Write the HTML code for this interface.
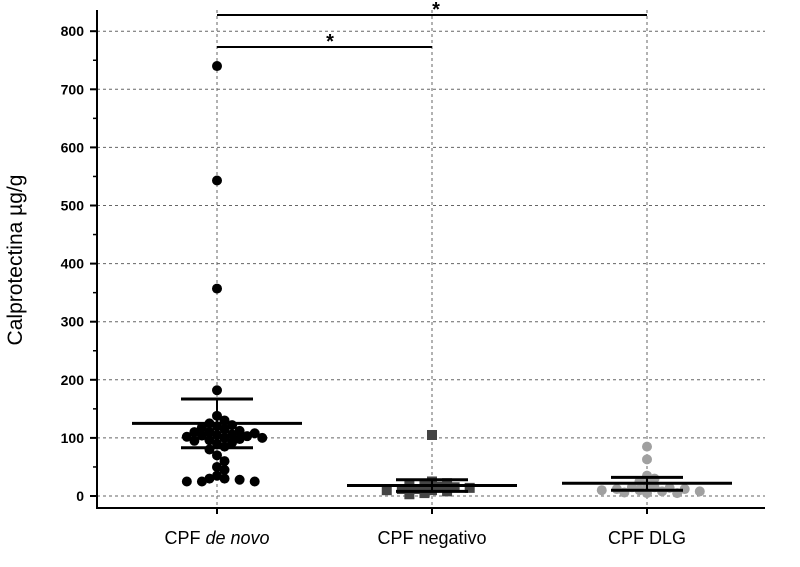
<!DOCTYPE html>
<html><head><meta charset="utf-8"><style>
body{margin:0;background:#fff;}
svg{display:block;font-family:"Liberation Sans",sans-serif;}
</style></head><body>
<svg id="chart" width="800" height="567">
<g id="grid"></g>
<g id="axes"></g>
<g id="marks"></g>
<text x="22" y="260" transform="rotate(-90 22 260)" text-anchor="middle" font-size="21" fill="#000">Calprotectina µg/g</text>
<line x1="217" y1="15" x2="647" y2="15" stroke="#000" stroke-width="2"/>
<text x="436" y="16" text-anchor="middle" font-size="20" font-weight="bold">*</text>
<line x1="217" y1="47" x2="432" y2="47" stroke="#000" stroke-width="2"/>
<text x="330" y="48" text-anchor="middle" font-size="20" font-weight="bold">*</text>
</svg>
<script>
const categories=["CPF de novo","CPF negativo","CPF DLG"];
const group1=[740,543,357,182,138,130,125,122,120,118,115,112,110,110,108,106,105,104,103,102,100,100,98,96,95,92,90,85,80,70,60,50,45,35,30,25,25,25,28,30];
const group2=[105,3,5,8,10,12,14,15,16,18,20,22,25,12,10];
const group3=[85,63,35,30,25,20,15,12,10,8,6,5,5,8,10,12,15,14];
const means=[125,18,22];
const sdLow=[83,8,10];
const sdHigh=[167,28,32];
const yTicks=[0,100,200,300,400,500,600,700,800];
const NS="http://www.w3.org/2000/svg";
const y=v=>496-v*0.581;
const xc=i=>217+i*215;
function mk(t,a,p){const e=document.createElementNS(NS,t);for(const k in a)e.setAttribute(k,a[k]);p.appendChild(e);return e;}
const grid=document.getElementById('grid'),axes=document.getElementById('axes'),marks=document.getElementById('marks');
yTicks.forEach(v=>{
 const g=mk('line',{x1:97,x2:765,y1:y(v),y2:y(v),stroke:'#666','stroke-dasharray':'3,3','stroke-width':1},grid);
 
 
 const t=mk('line',{x1:90,x2:97,y1:y(v),y2:y(v),stroke:'#000','stroke-width':2},axes);
 
 
 if(v<800){
 const m=mk('line',{x1:93,x2:97,y1:y(v+50),y2:y(v+50),stroke:'#000','stroke-width':1.5},axes);
 
 }
 const l=mk('text',{x:84,y:y(v)+5,'text-anchor':'end','font-size':14,'font-weight':'bold',fill:'#000'},axes);
 l.textContent=v;
 
 
});
categories.forEach((c,i)=>{
 const g=mk('line',{x1:xc(i),x2:xc(i),y1:10,y2:508,stroke:'#666','stroke-dasharray':'3,3','stroke-width':1},grid);
 
 
 const t=mk('text',{x:xc(i),y:544,'text-anchor':'middle','font-size':18,fill:'#000'},axes);
 
 
 if(i===0){t.innerHTML='CPF <tspan font-style="italic">de novo</tspan>';}else t.textContent=c;
 const k=mk('line',{x1:xc(i),x2:xc(i),y1:508,y2:514,stroke:'#000','stroke-width':2},axes);
 
 
});
let a=mk('line',{x1:97,x2:97,y1:10,y2:509,stroke:'#000','stroke-width':2},axes);


a=mk('line',{x1:96,x2:765,y1:508,y2:508,stroke:'#000','stroke-width':2},axes);


function swarm(vals,cx,r){
 const placed=[];const sorted=vals.slice().sort((p,q)=>q-p);
 sorted.forEach(v=>{const py=y(v);let k=0;
  while(true){const off=(k%2?1:-1)*Math.ceil(k/2)*r*1.45;const px=cx+off;
   if(placed.every(p=>Math.hypot(p[0]-px,p[1]-py)>=r*1.55)){placed.push([px,py]);break;}k++;if(k>40){placed.push([px,py]);break;}}
 });return placed;}
const groups=[group1,group2,group3];
const colors=['#000','#444','#a0a0a0'];
groups.forEach((vals,i)=>{
 swarm(vals,xc(i),5.2).forEach(p=>{
  let e;
  if(i===1){e=mk('rect',{x:p[0]-5,y:p[1]-5,width:10,height:10,fill:colors[i]},marks);}
  else e=mk('circle',{cx:p[0],cy:p[1],r:5,fill:colors[i]},marks);
  
  
 });
 const cx=xc(i);
 let e=mk('line',{x1:cx-85,x2:cx+85,y1:y(means[i]),y2:y(means[i]),stroke:'#000','stroke-width':3},marks);
 
 
 e=mk('line',{x1:cx,x2:cx,y1:y(sdLow[i]),y2:y(sdHigh[i]),stroke:'#000','stroke-width':2},marks);
 
 
 [sdLow[i],sdHigh[i]].forEach(v=>{
  const c=mk('line',{x1:cx-36,x2:cx+36,y1:y(v),y2:y(v),stroke:'#000','stroke-width':3},marks);
  
  
 });
});
</script>
</body></html>
